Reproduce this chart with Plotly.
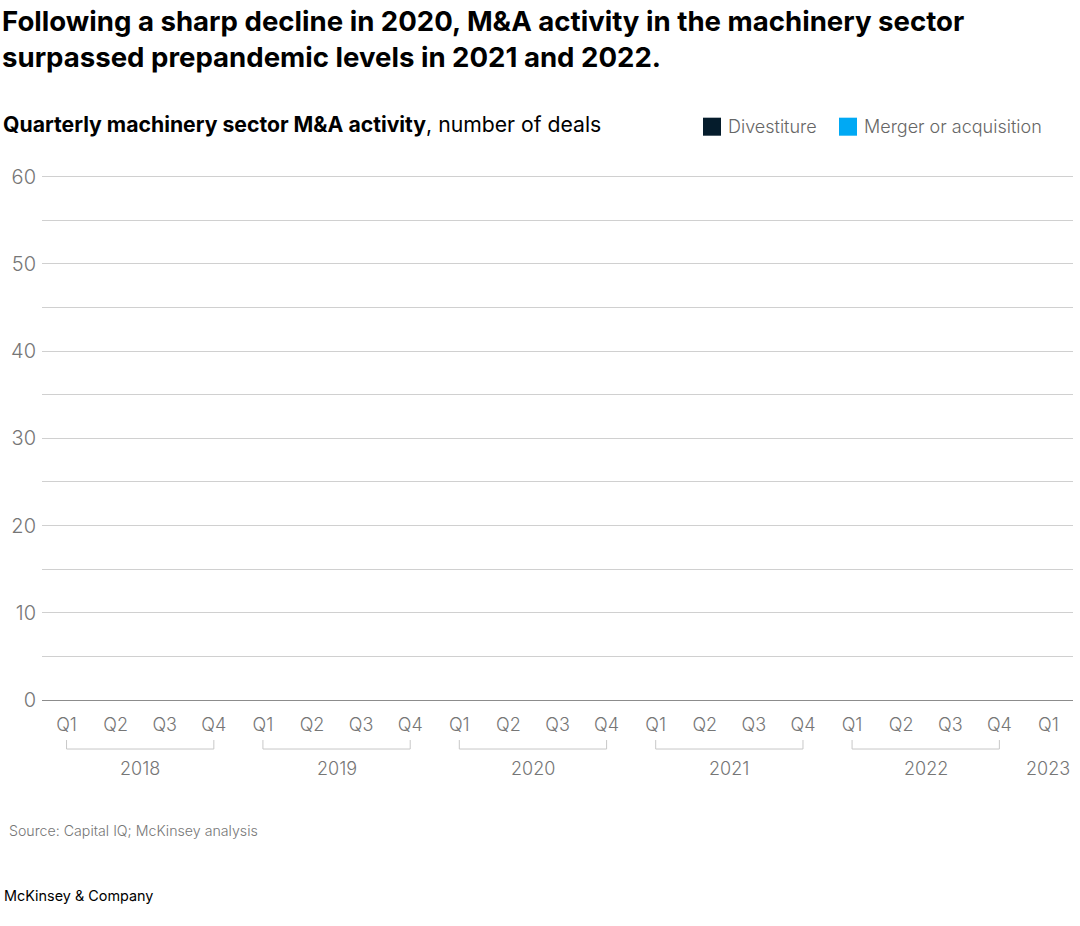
import plotly.graph_objects as go

# ---- data ----
quarters = ["Q1", "Q2", "Q3", "Q4"] * 5 + ["Q1"]
years = ["2018", "2019", "2020", "2021", "2022", "2023"]
divestiture = [0, 0, 0, 0, 0, 0, 0, 0, 0, 0, 0, 0, 0, 0, 0, 0, 0, 0, 0, 0, 0]
merger_acq = [0, 0, 0, 0, 0, 0, 0, 0, 0, 0, 0, 0, 0, 0, 0, 0, 0, 0, 0, 0, 0]
y_ticks = [0, 10, 20, 30, 40, 50, 60]

W, H = 1080, 926
UNIT = 523 / 60.0
Y_TOP = 61
ML, MR, MB = 42, 7, 226
MT = 177 - UNIT * (Y_TOP - 60)
PW, PH = W - ML - MR, H - MT - MB

def px(x):
    return (x - ML) / PW

def py(y):
    return 1 - (y - MT) / PH

FONT = "Inter"
idx = list(range(len(quarters)))

fig = go.Figure()
fig.add_trace(go.Bar(x=idx, y=divestiture, name="Divestiture",
                     marker_color="#051C2C", showlegend=False))
fig.add_trace(go.Bar(x=idx, y=merger_acq, name="Merger or acquisition",
                     marker_color="#00A9F4", showlegend=False))

fig.update_layout(
    width=W, height=H, barmode="stack",
    margin=dict(l=ML, r=MR, t=MT, b=MB, pad=0),
    paper_bgcolor="white", plot_bgcolor="white",
    font=dict(family=FONT, color="#767676", size=18),
    xaxis=dict(range=[-0.5, len(quarters) - 0.5], tickmode="array",
               tickvals=idx, ticktext=quarters, showgrid=False,
               showline=False, zeroline=False, ticks="outside",
               ticklen=8, tickcolor="rgba(0,0,0,0)",
               tickfont=dict(family=FONT, size=18, color="#767676", weight=300)),
    yaxis=dict(range=[0, Y_TOP], tickvals=y_ticks, showgrid=True,
               gridcolor="#d0d0d0", gridwidth=1,
               minor=dict(tickvals=[5, 15, 25, 35, 45, 55], showgrid=True,
                          gridcolor="#d0d0d0", gridwidth=1),
               zeroline=True, zerolinecolor="#8c8c8c", zerolinewidth=1,
               showline=False, ticks="outside", ticklen=1,
               tickcolor="rgba(0,0,0,0)",
               tickfont=dict(family=FONT, size=20, color="#767676", weight=300)),
)

ann = []
ann.append(dict(text="<b>Following a sharp decline in 2020, M&A activity in the machinery sector</b><br><b>surpassed prepandemic levels in 2021 and 2022.</b>",
                xref="paper", yref="paper", x=px(0), y=py(2), xanchor="left", yanchor="top",
                align="left", showarrow=False,
                font=dict(family=FONT, size=27.6, color="#000000")))
ann.append(dict(text="<b>Quarterly machinery sector M&A activity</b>, number of deals",
                xref="paper", yref="paper", x=px(1), y=py(124), xanchor="left", yanchor="middle",
                showarrow=False, font=dict(family=FONT, size=21.2, color="#000000")))
leg = [("Divestiture", "#051C2C", 703), ("Merger or acquisition", "#00A9F4", 839)]
shapes = []
for name, col, x0 in leg:
    shapes.append(dict(type="rect", xref="paper", yref="paper",
                       x0=px(x0), x1=px(x0 + 18), y0=py(136), y1=py(118),
                       fillcolor=col, line=dict(width=0)))
    ann.append(dict(text=name, xref="paper", yref="paper", x=px(x0 + 23), y=py(127),
                    xanchor="left", yanchor="middle", showarrow=False,
                    font=dict(family=FONT, size=18, color="#666666", weight=300)))
for i, yr in enumerate(years):
    start = i * 4
    end = min(start + 3, len(quarters) - 1)
    if end > start:
        for xv in (start, end):
            shapes.append(dict(type="line", xref="x", yref="paper", x0=xv, x1=xv,
                               y0=py(740), y1=py(749), line=dict(color="#c8c8c8", width=1)))
        shapes.append(dict(type="line", xref="x", yref="paper", x0=start, x1=end,
                           y0=py(749), y1=py(749), line=dict(color="#c8c8c8", width=1)))
    ann.append(dict(text=yr, xref="x", yref="paper", x=(start + end) / 2, y=py(768),
                    xanchor="center", yanchor="middle", showarrow=False,
                    font=dict(family=FONT, size=18, color="#767676", weight=300)))
ann.append(dict(text="Source: Capital IQ; McKinsey analysis", xref="paper", yref="paper",
                x=px(7), y=py(830), xanchor="left", yanchor="middle", showarrow=False,
                font=dict(family=FONT, size=14.2, color="#767676", weight=300)))
ann.append(dict(text="McKinsey & Company", xref="paper", yref="paper",
                x=px(2), y=py(895), xanchor="left", yanchor="middle", showarrow=False,
                font=dict(family=FONT, size=14.4, color="#000000")))

fig.update_layout(annotations=ann, shapes=shapes)
fig.write_html("out.html", config={"displayModeBar": False},
               post_script="document.body.style.margin='0';")
